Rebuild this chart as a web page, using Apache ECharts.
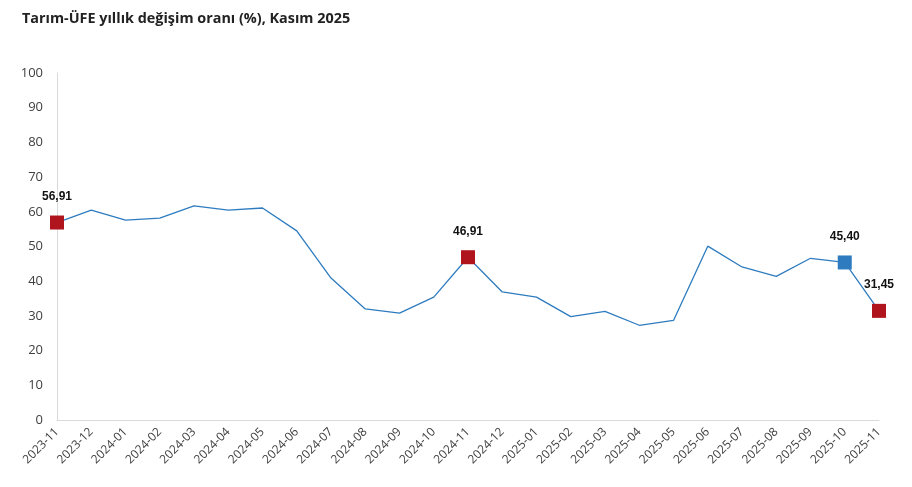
<!DOCTYPE html>
<html><head><meta charset="utf-8">
<script src="https://cdn.jsdelivr.net/npm/echarts@6/dist/echarts.min.js"></script>
<style>html,body{margin:0;padding:0;background:#fff}#c{width:912px;height:487px}</style>
</head><body><div id="c"></div>
<script>
var categories = ["2023-11","2023-12","2024-01","2024-02","2024-03","2024-04","2024-05","2024-06","2024-07","2024-08","2024-09","2024-10","2024-11","2024-12","2025-01","2025-02","2025-03","2025-04","2025-05","2025-06","2025-07","2025-08","2025-09","2025-10","2025-11"];
var values = [56.91,60.5,57.6,58.2,61.7,60.5,61.1,54.5,40.9,32.0,30.8,35.4,46.91,36.9,35.4,29.8,31.3,27.3,28.7,50.1,44.1,41.4,46.6,45.40,31.45];
var highlightRed = ["2023-11","2024-11","2025-11"];
var highlightBlue = ["2025-10"];
var yTicks = {min:0, max:100, interval:10};

function fmt(v){return v.toFixed(2).replace('.',',');}
var data = values.map(function(v,i){
  var c = categories[i];
  var d = {value:v};
  if (highlightRed.indexOf(c)>=0 || highlightBlue.indexOf(c)>=0){
    d.symbol='rect'; d.symbolSize=14;
    d.itemStyle={color: highlightRed.indexOf(c)>=0 ? '#b0151d' : '#2e7cbf', borderColor:'#fff', borderWidth:0};
    d.label={show:true, position:'top', distance:13, formatter:fmt(v), fontWeight:'bold', fontSize:12, color:'#111', fontFamily:'Liberation Sans'};
  }
  return d;
});
var chart = echarts.init(document.getElementById('c'));
chart.setOption({
  animation:false,
  title:{text:'Tarım-ÜFE yıllık değişim oranı (%), Kasım 2025', left:17, top:7, textStyle:{fontSize:14.4, fontWeight:'bold', color:'#222', fontFamily:'Open Sans'}},
  grid:{left:57, right:33, top:73, bottom:67},
  xAxis:{type:'category', data:categories, boundaryGap:false,
    axisLine:{lineStyle:{color:'#d9d9d9'}}, axisTick:{show:false},
    axisLabel:{rotate:45, fontSize:12, color:'#404040', fontFamily:'Open Sans', interval:0, margin:10}},
  yAxis:{type:'value', min:yTicks.min, max:yTicks.max, interval:yTicks.interval,
    splitLine:{show:false}, axisLine:{show:true, lineStyle:{color:'#d9d9d9'}}, axisTick:{show:false},
    axisLabel:{fontSize:13, color:'#404040', fontFamily:'Open Sans', margin:14}},
  series:[{type:'line', data:data, symbol:'none', showSymbol:true,
    lineStyle:{color:'#2e7cbf', width:1.3}, itemStyle:{color:'#2e7cbf'}}]
});
</script></body></html>
